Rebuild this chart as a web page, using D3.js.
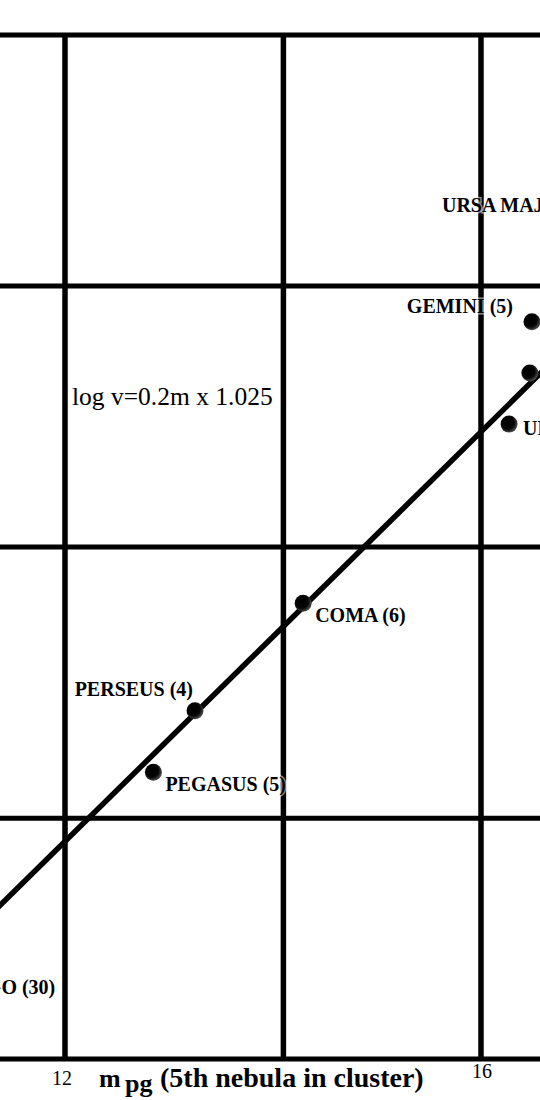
<!DOCTYPE html>
<html>
<head>
<meta charset="utf-8">
<script src="https://cdn.jsdelivr.net/npm/d3@7"></script>
<style>
  html, body { margin: 0; padding: 0; background: #fff; }
  svg { display: block; }
</style>
</head>
<body>
<div id="chart"></div>
<script>
// ---- data ----
const clusterNames = ["VIRGO (30)", "PEGASUS (5)", "PERSEUS (4)", "COMA (6)", "URSA MAJOR II (2)", "LEO", "GEMINI (5)", "URSA MAJOR I"];
const magnitudes   = [10.82, 12.85, 13.25, 14.29, 16.27, 16.47, 16.49, 17.1];
const logVelocity  = [3.19, 3.56, 3.68, 3.89, 4.24, 4.34, 4.44, 4.67];
const showLabel    = [true, true, true, true, true, false, true, true];
const fitSlope = 0.2;
const fitIntercept = 1.025;
const fitRange = [10, 18];
const gridM = [12, 14.1, 16];
const gridLogV = [3.0, 3.47, 4.0, 4.51, 5.0];
const xTickLabels = ["12", "16"];
const xTickValues = [12, 16];
const equationText = "log v=0.2m x 1.025";

// ---- layout ----
const W = 540, H = 1100;
const labelLayout = {
  "VIRGO (30)":        { anchor: "end",   dx: 113, dy: 32 },
  "PEGASUS (5)":       { anchor: "start", dx: 12,  dy: 19 },
  "PERSEUS (4)":       { anchor: "end",   dx: -2,  dy: -15 },
  "COMA (6)":          { anchor: "start", dx: 12,  dy: 19 },
  "URSA MAJOR II (2)": { anchor: "start", dx: 14,  dy: 11 },
  "GEMINI (5)":        { anchor: "end",   dx: -19, dy: -9 },
  "URSA MAJOR I":      { anchor: "end",   dx: -9,  dy: 8 }
};

const x = d3.scaleLinear().domain([12, 16]).range([65, 481]);
const y = d3.scaleLinear().domain([4, 5]).range([547, 35]);

const svg = d3.select("#chart").append("svg")
  .attr("width", W).attr("height", H)
  .style("font-family", "'Liberation Serif', 'Times New Roman', serif");

const defs = svg.append("defs");
const grad = defs.append("radialGradient").attr("id", "dotGrad")
  .attr("cx", "0.4").attr("cy", "0.4").attr("r", "0.65");
grad.append("stop").attr("offset", "0").attr("stop-color", "#000");
grad.append("stop").attr("offset", "0.6").attr("stop-color", "#050505");
grad.append("stop").attr("offset", "1").attr("stop-color", "#5a5a5a");

// grid
const gridG = svg.append("g");
gridG.selectAll("line.h").data(gridLogV).join("line").attr("class", "h")
  .attr("x1", 0).attr("x2", W)
  .attr("y1", d => y(d)).attr("y2", d => y(d))
  .attr("stroke", "#000").attr("stroke-width", 5);
gridG.selectAll("line.v").data(gridM).join("line").attr("class", "v")
  .attr("x1", d => x(d)).attr("x2", d => x(d))
  .attr("y1", y(d3.max(gridLogV))).attr("y2", y(d3.min(gridLogV)))
  .attr("stroke", "#000").attr("stroke-width", 5.5);

// fit line
const fitPts = fitRange.map(m => [m, fitSlope * m + fitIntercept]);
svg.append("path")
  .attr("d", d3.line().x(d => x(d[0])).y(d => y(d[1]))(fitPts))
  .attr("stroke", "#000").attr("stroke-width", 5.5).attr("fill", "none");

// points
const pts = clusterNames.map((n, i) => ({ name: n, m: magnitudes[i], v: logVelocity[i], show: showLabel[i] }));
svg.append("g").selectAll("circle").data(pts).join("circle")
  .attr("cx", d => x(d.m)).attr("cy", d => y(d.v)).attr("r", 8.5)
  .attr("fill", "url(#dotGrad)");

// labels
svg.append("g").selectAll("text").data(pts.filter(d => d.show)).join("text")
  .attr("x", d => x(d.m) + labelLayout[d.name].dx)
  .attr("y", d => y(d.v) + labelLayout[d.name].dy)
  .attr("text-anchor", d => labelLayout[d.name].anchor)
  .attr("font-size", 20).attr("font-weight", "bold")
  .attr("fill", "#000")
  .attr("stroke", "rgba(255,255,255,0.55)").attr("stroke-width", 3)
  .attr("paint-order", "stroke")
  .text(d => d.name);

// equation
svg.append("text")
  .attr("x", 72).attr("y", 405)
  .attr("font-size", 25.5).attr("fill", "#000")
  .text(equationText);

// x tick labels
const tickDy = [1085, 1078];
const tickDx = [-3, 1];
svg.append("g").selectAll("text").data(xTickValues).join("text")
  .attr("x", (d, i) => x(d) + tickDx[i])
  .attr("y", (d, i) => tickDy[i])
  .attr("text-anchor", "middle")
  .attr("font-size", 20).attr("fill", "#000")
  .text((d, i) => xTickLabels[i]);

// axis title
const title = svg.append("text")
  .attr("y", 1087).attr("font-size", 28).attr("font-weight", "bold").attr("fill", "#000");
title.append("tspan").attr("x", 99).attr("font-size", 26).text("m");
title.append("tspan").attr("x", 125).attr("dy", 5).attr("font-size", 26).text("pg");
title.append("tspan").attr("x", 160).attr("dy", -5).text("(5th nebula in cluster)");
</script>
</body>
</html>
